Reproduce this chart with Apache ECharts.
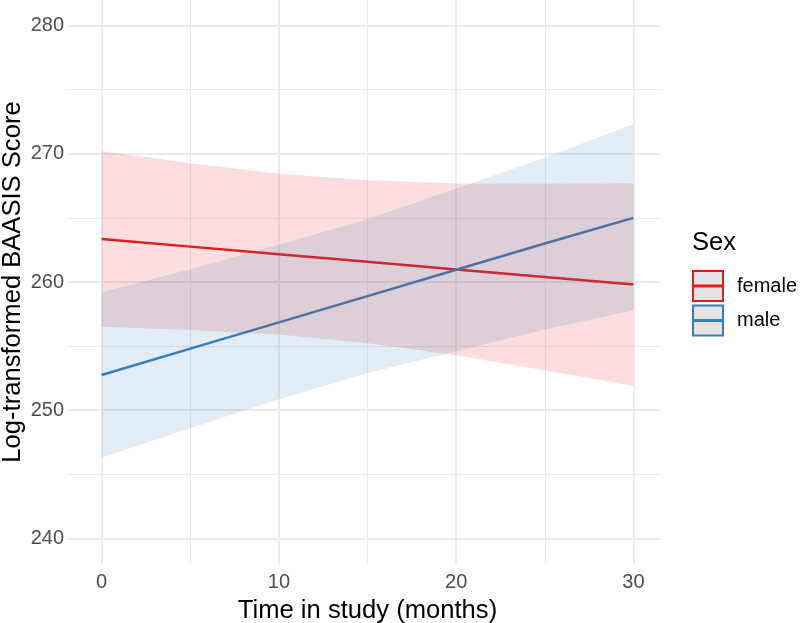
<!DOCTYPE html>
<html>
<head>
<meta charset="utf-8">
<script src="https://cdn.jsdelivr.net/npm/echarts@6/dist/echarts.min.js"></script>
<style>
html,body{margin:0;padding:0;background:#fff;}
#chart{width:800px;height:623px;}
</style>
</head>
<body>
<div id="chart"></div>
<script>
const months = [0, 5, 10, 15, 20, 25, 30];
const femaleFit   = [263.35, 262.76, 262.17, 261.58, 260.98, 260.39, 259.80];
const femaleUpper = [270.20, 269.26, 268.44, 267.93, 267.68, 267.66, 267.70];
const femaleLower = [256.50, 256.26, 255.90, 255.23, 254.28, 253.12, 251.90];
const maleFit     = [252.75, 254.80, 256.85, 258.90, 260.95, 263.00, 265.00];
const maleUpper   = [259.20, 261.00, 262.90, 264.90, 267.30, 269.70, 272.30];
const maleLower   = [246.30, 248.60, 250.85, 252.90, 254.60, 256.30, 257.80];
const xMajorTicks = [0, 10, 20, 30];
const xMinorTicks = [5, 15, 25];
const yMajorTicks = [240, 250, 260, 270, 280];
const yMinorTicks = [245, 255, 265, 275];

const FONT = "'Liberation Sans', Arial, Helvetica, sans-serif";
const RED = '#E41A1C', BLUE = '#377EB8';
const GRID = '#EBEBEB';

function ribbon(name, upper, lower, fill) {
  return {
    type: 'custom', name: name + ' CI', silent: true, z: 3,
    xAxisIndex: 0, yAxisIndex: 0,
    data: [[months[0], upper[0]]],
    encode: {x: 0, y: 1},
    renderItem: function (params, api) {
      const pts = [];
      for (let i = 0; i < months.length; i++) pts.push(api.coord([months[i], upper[i]]));
      for (let i = months.length - 1; i >= 0; i--) pts.push(api.coord([months[i], lower[i]]));
      return {type: 'polygon', shape: {points: pts}, style: {fill: fill}};
    }
  };
}
function fitLine(name, vals, color) {
  return {
    type: 'line', name: name, xAxisIndex: 0, yAxisIndex: 0, z: 2,
    symbol: 'none', silent: true, color: color,
    lineStyle: {color: color, width: 2.5},
    data: months.map((m, i) => [m, vals[i]])
  };
}

const xBase = {type: 'value', min: -1.9, max: 31.5, axisLine: {show: false}};
const yBase = {type: 'value', min: 238, max: 282, axisLine: {show: false}};

const option = {
  backgroundColor: '#fff',
  animation: false,
  textStyle: {fontFamily: FONT},
  grid: {left: 68, right: 140, top: 0, height: 564, containLabel: false, outerBoundsMode: 'none'},
  title: {
    text: 'Sex', left: 692, top: 230, padding: 0,
    textStyle: {fontSize: 25.5, fontWeight: 'normal', color: '#000', fontFamily: FONT}
  },
  legend: {
    orient: 'vertical', left: 692, top: 270, padding: 0,
    itemWidth: 30, itemHeight: 30, itemGap: 2.5,
    selectedMode: false,
    icon: 'path://M0,0H30V30H0Z M0,14.6H30V15.4H0Z',
    textStyle: {fontSize: 20, color: '#000', fontFamily: FONT, padding: [0, 0, 0, 9]},
    data: [
      {name: 'female', itemStyle: {color: '#E3E3E3', borderColor: RED, borderWidth: 2}},
      {name: 'male', itemStyle: {color: '#E3E3E3', borderColor: BLUE, borderWidth: 2}}
    ]
  },
  xAxis: [
    Object.assign({}, xBase, {
      name: 'Time in study (months)', nameLocation: 'middle', nameGap: 34, nameMoveOverlap: false,
      nameTextStyle: {fontSize: 25.6, color: '#000', fontFamily: FONT, padding: [0, 0, 0, 7]},
      axisTick: {show: false, customValues: xMajorTicks},
      axisLabel: {customValues: xMajorTicks, fontSize: 20, color: '#4D4D4D', margin: 8, fontFamily: FONT},
      splitLine: {show: true, lineStyle: {color: GRID, width: 1.8}}
    }),
    Object.assign({}, xBase, {
      axisTick: {show: false, customValues: xMinorTicks},
      axisLabel: {show: false},
      splitLine: {show: true, lineStyle: {color: GRID, width: 1}}
    })
  ],
  yAxis: [
    Object.assign({}, yBase, {
      name: 'Log-transformed BAASIS Score', nameLocation: 'middle', nameGap: 42, nameRotate: 90, nameMoveOverlap: false,
      nameTextStyle: {fontSize: 25.6, color: '#000', fontFamily: FONT},
      axisTick: {show: false, customValues: yMajorTicks},
      axisLabel: {customValues: yMajorTicks, fontSize: 20, color: '#4D4D4D', margin: 4, fontFamily: FONT},
      splitLine: {show: true, lineStyle: {color: GRID, width: 1.8}}
    }),
    Object.assign({}, yBase, {
      axisTick: {show: false, customValues: yMinorTicks},
      axisLabel: {show: false},
      splitLine: {show: true, lineStyle: {color: GRID, width: 1}}
    })
  ],
  series: [
    fitLine('female', femaleFit, RED),
    fitLine('male', maleFit, BLUE),
    ribbon('female', femaleUpper, femaleLower, 'rgba(228,26,28,0.15)'),
    ribbon('male', maleUpper, maleLower, 'rgba(55,126,184,0.15)')
  ]
};

const chart = echarts.init(document.getElementById('chart'), null, {renderer: 'canvas'});
chart.setOption(option);
</script>
</body>
</html>
